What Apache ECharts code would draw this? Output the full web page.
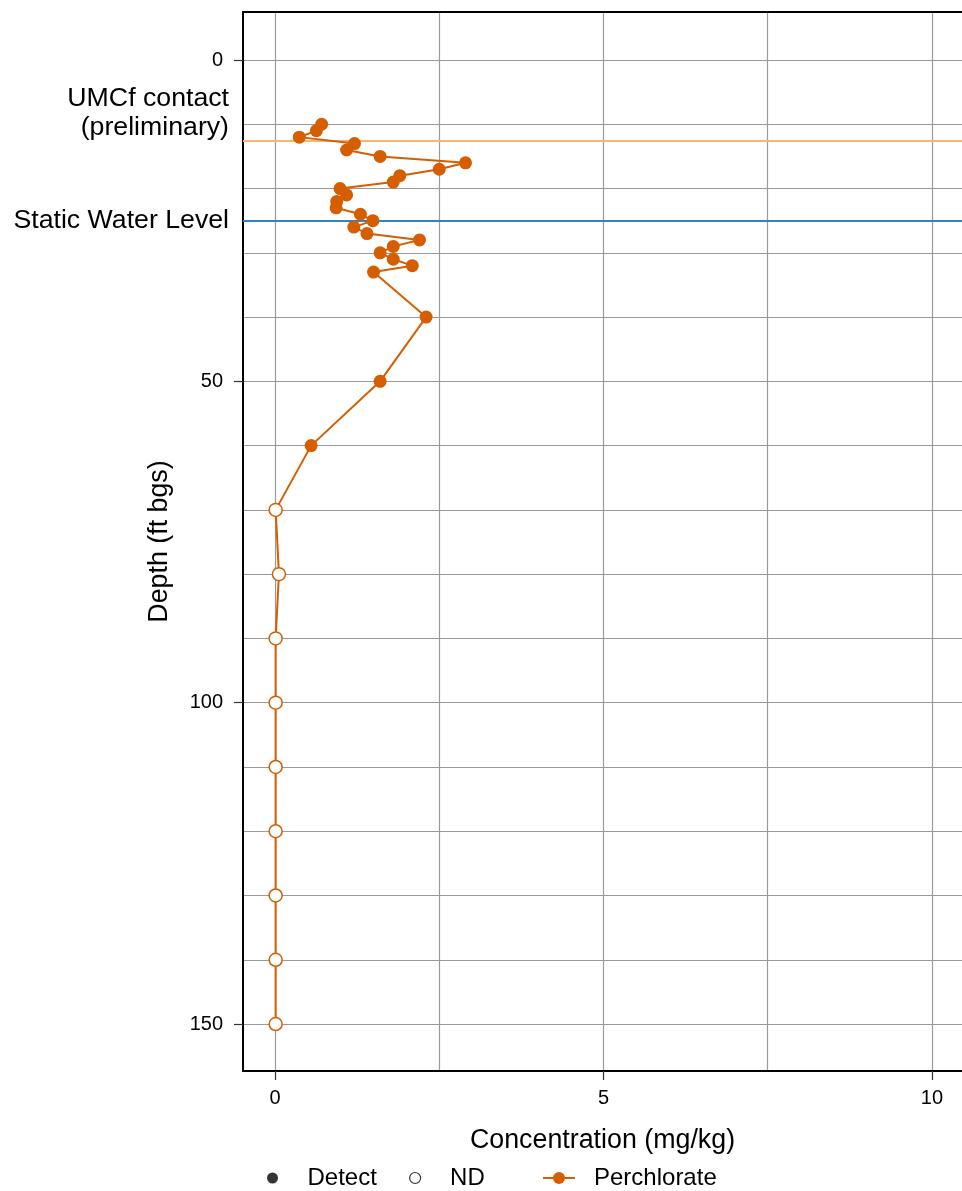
<!DOCTYPE html>
<html>
<head>
<meta charset="utf-8">
<title>Perchlorate depth profile</title>
<script src="https://cdn.jsdelivr.net/npm/echarts@6/dist/echarts.min.js"></script>
<style>
  html, body { margin: 0; padding: 0; background: #fff; }
  #chart { width: 962px; height: 1191px; }
</style>
</head>
<body>
<div id="chart"></div>
<script>
// Sample depths (ft bgs) and perchlorate concentrations (mg/kg)
const depths = [10, 11, 12, 13, 14, 15, 16, 17, 18, 19, 20, 21, 22, 23, 24, 25,
                26, 27, 28, 29, 30, 31, 32, 33, 40, 50, 60,
                70, 80, 90, 100, 110, 120, 130, 140, 150];
const concentrations = [0.71, 0.63, 0.37, 1.21, 1.09, 1.60, 2.90, 2.50, 1.90, 1.80, 0.99, 1.09,
                        0.94, 0.93, 1.30, 1.49, 1.20, 1.40, 2.20, 1.80, 1.60, 1.80, 2.09, 1.50,
                        2.30, 1.60, 0.55,
                        0.01, 0.06, 0.01, 0.01, 0.01, 0.01, 0.01, 0.01, 0.01];
const detectFlags = ['Detect', 'Detect', 'Detect', 'Detect', 'Detect', 'Detect', 'Detect', 'Detect',
                     'Detect', 'Detect', 'Detect', 'Detect', 'Detect', 'Detect', 'Detect', 'Detect',
                     'Detect', 'Detect', 'Detect', 'Detect', 'Detect', 'Detect', 'Detect', 'Detect',
                     'Detect', 'Detect', 'Detect',
                     'ND', 'ND', 'ND', 'ND', 'ND', 'ND', 'ND', 'ND', 'ND'];

// Reference horizons
const horizonNames = ['UMCf contact\n(preliminary)', 'Static Water Level'];
const horizonDepths = [12.5, 25];

// Axis ticks and grid lines
const xTickValues = [0, 5, 10];
const xGridValues = [0, 2.5, 5, 7.5, 10];
const yTickValues = [0, 50, 100, 150];
const yGridValues = [0, 10, 20, 30, 40, 50, 60, 70, 80, 90, 100, 110, 120, 130, 140, 150];

const ORANGE = '#D55E00';
const GRID_GRAY = '#9a9a9a';
const FONT = "'Liberation Sans', Arial, Helvetica, sans-serif";

const seriesData = concentrations.map((c, i) => {
  const item = { value: [c, depths[i]] };
  if (detectFlags[i] === 'ND') {
    item.itemStyle = { color: '#ffffff', borderColor: ORANGE, borderWidth: 1.5 };
  }
  return item;
});

const horizonStyles = [
  { lineColor: '#FDB46E', label: { verticalAlign: 'bottom', lineHeight: 29, padding: [0, 0, -2, 0] } },
  { lineColor: '#2C85BF', label: { verticalAlign: 'middle', lineHeight: 29 } }
];

const markLineData = horizonDepths.map((d, i) => ({
  yAxis: d,
  lineStyle: { color: horizonStyles[i].lineColor, width: 2, type: 'solid' },
  label: Object.assign({
    show: true,
    position: 'start',
    distance: 14,
    formatter: horizonNames[i],
    align: 'right',
    fontSize: 26.7,
    fontFamily: FONT,
    color: '#000'
  }, horizonStyles[i].label)
}));

const chart = echarts.init(document.getElementById('chart'), null, { renderer: 'canvas' });

chart.setOption({
  animation: false,
  backgroundColor: '#fff',
  textStyle: { fontFamily: FONT },
  grid: { left: 243, top: 12, right: 0, bottom: 120, containLabel: false },
  legend: [
    {
      data: [{ name: 'Detect', icon: 'circle', itemStyle: { color: '#000', borderWidth: 0 } }],
      left: 262, top: 1161, itemWidth: 60, itemHeight: 11, selectedMode: false,
      textStyle: { fontSize: 24, color: '#000', fontFamily: FONT }
    },
    {
      data: [{ name: 'ND', icon: 'circle', itemStyle: { color: '#fff', borderColor: '#000', borderWidth: 1.2 } }],
      left: 404, top: 1161, itemWidth: 60, itemHeight: 11, selectedMode: false,
      textStyle: { fontSize: 24, color: '#000', fontFamily: FONT }
    },
    {
      data: ['Perchlorate'],
      left: 537, top: 1161, itemWidth: 32, itemHeight: 15, selectedMode: false,
      textStyle: { fontSize: 24, color: '#000', fontFamily: FONT, padding: [0, 0, 0, 14] }
    }
  ],
  xAxis: [
    {
      type: 'value', position: 'bottom', min: -0.487, max: 10.457,
      name: 'Concentration (mg/kg)', nameLocation: 'middle', nameGap: 56,
      nameTextStyle: { fontSize: 26.8, color: '#000', fontFamily: FONT },
      axisLine: { show: true, onZero: false, lineStyle: { color: '#000', width: 2 } },
      axisTick: { show: true, customValues: xTickValues, length: 9, lineStyle: { color: '#333', width: 1.2 } },
      axisLabel: { show: true, customValues: xTickValues, fontSize: 20, color: '#000', margin: 17, fontFamily: FONT },
      splitLine: { show: false }
    },
    {
      type: 'value', position: 'top', min: -0.487, max: 10.457,
      axisLine: { show: true, onZero: false, lineStyle: { color: '#000', width: 2 } },
      axisTick: { show: false, customValues: xGridValues },
      axisLabel: { show: false },
      splitLine: { show: true, lineStyle: { color: GRID_GRAY, width: 1.2 } }
    }
  ],
  yAxis: [
    {
      type: 'value', position: 'left', inverse: true, min: -7.47, max: 157.31,
      name: 'Depth (ft bgs)', nameLocation: 'middle', nameGap: 70,
      nameTextStyle: { fontSize: 26.8, color: '#000', fontFamily: FONT },
      axisLine: { show: true, onZero: false, lineStyle: { color: '#000', width: 2 } },
      axisTick: { show: true, customValues: yTickValues, length: 9, lineStyle: { color: '#333', width: 1.2 } },
      axisLabel: { show: true, customValues: yTickValues, fontSize: 20, color: '#000', margin: 20, fontFamily: FONT },
      splitLine: { show: false }
    },
    {
      type: 'value', position: 'right', inverse: true, min: -7.47, max: 157.31,
      axisLine: { show: false },
      axisTick: { show: false, customValues: yGridValues },
      axisLabel: { show: false },
      splitLine: { show: true, lineStyle: { color: GRID_GRAY, width: 1.2 } }
    }
  ],
  series: [
    {
      name: 'Perchlorate',
      type: 'line',
      xAxisIndex: 0, yAxisIndex: 0,
      data: seriesData,
      showSymbol: true, showAllSymbol: true,
      symbol: 'circle', symbolSize: 13,
      itemStyle: { color: ORANGE },
      lineStyle: { color: ORANGE, width: 2 },
      emphasis: { disabled: true },
      z: 3,
      markLine: {
        silent: true,
        symbol: ['none', 'none'],
        z: 1,
        emphasis: { disabled: true },
        data: markLineData
      }
    },
    {
      name: 'Detect', type: 'scatter', data: [],
      symbol: 'circle', itemStyle: { color: '#000' }
    },
    {
      name: 'ND', type: 'scatter', data: [],
      symbol: 'circle', itemStyle: { color: '#fff', borderColor: '#000', borderWidth: 1.2 }
    }
  ]
});
</script>
</body>
</html>
